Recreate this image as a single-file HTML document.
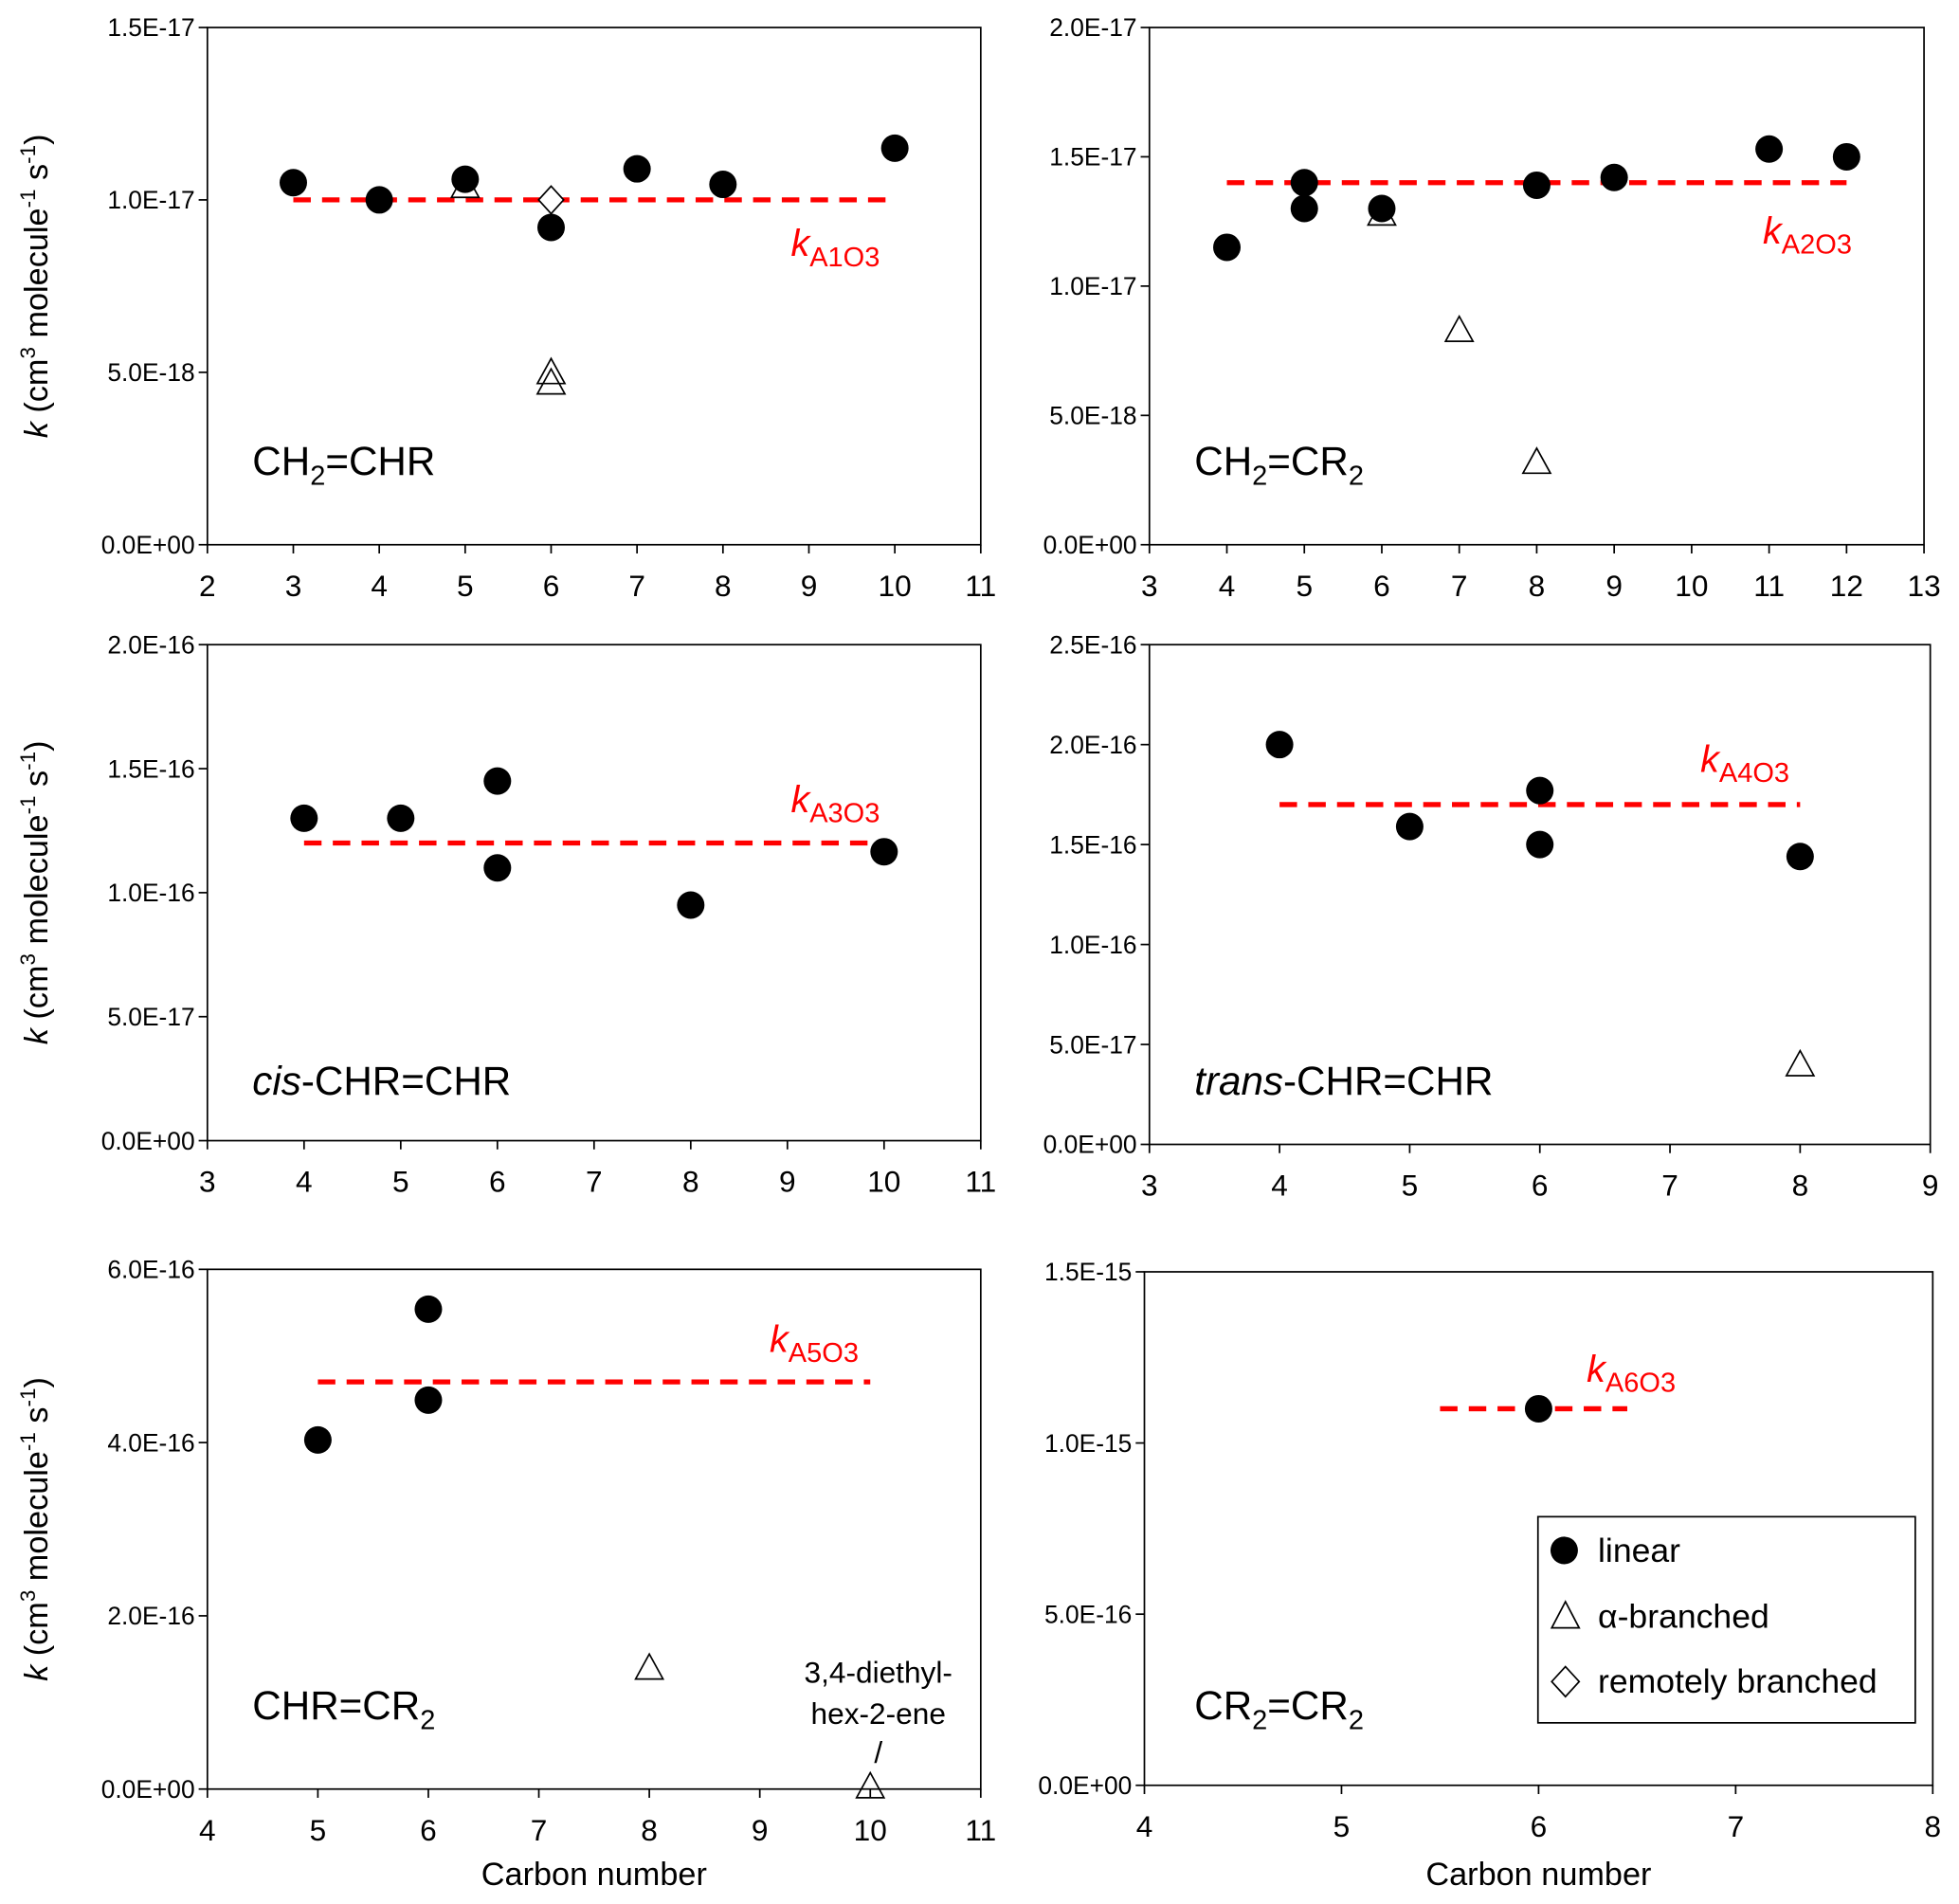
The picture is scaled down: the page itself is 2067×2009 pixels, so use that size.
<!DOCTYPE html>
<html><head><meta charset="utf-8"><style>
html,body{margin:0;padding:0;background:#fff}
svg{display:block;font-family:"Liberation Sans",sans-serif}
</style></head><body>
<svg id="chart" width="2067" height="2009" viewBox="0 0 1568 1524" xmlns="http://www.w3.org/2000/svg"></svg>
<script>
// ---- data ----
const p1Linear = [[3,1.05e-17],[4,1.0e-17],[5,1.06e-17],[6,0.92e-17],[7,1.09e-17],[8,1.045e-17],[10,1.15e-17]];
const p1Alpha = [[5,1.04e-17],[6,0.50e-17],[6,0.47e-17]];
const p1Remote = [[6,1.0e-17]];
const p1Avg = [3,10,1.0e-17];
const p2Linear = [[4,1.15e-17],[5,1.40e-17],[5,1.30e-17],[6,1.30e-17],[8,1.39e-17],[9,1.42e-17],[11,1.53e-17],[12,1.50e-17]];
const p2Alpha = [[6,1.28e-17],[7,0.83e-17],[8,0.32e-17]];
const p2Avg = [4,12,1.4e-17];
const p3Linear = [[4,1.30e-16],[5,1.30e-16],[6,1.45e-16],[6,1.10e-16],[8,0.95e-16],[10,1.165e-16]];
const p3Avg = [4,10,1.2e-16];
const p4Linear = [[4,2.0e-16],[5,1.59e-16],[6,1.77e-16],[6,1.50e-16],[8,1.44e-16]];
const p4Alpha = [[8,0.40e-16]];
const p4Avg = [4,8,1.7e-16];
const p5Linear = [[5,4.03e-16],[6,5.54e-16],[6,4.49e-16]];
const p5Alpha = [[8,1.40e-16],[10,0.03e-16]];
const p5Avg = [5,10,4.7e-16];
const p6Linear = [[6,1.1e-15]];
const p6Avg = [5.5,6.45,1.1e-15];
const yTicks1 = ["0.0E+00","5.0E-18","1.0E-17","1.5E-17"];
const yTicks2 = ["0.0E+00","5.0E-18","1.0E-17","1.5E-17","2.0E-17"];
const yTicks3 = ["0.0E+00","5.0E-17","1.0E-16","1.5E-16","2.0E-16"];
const yTicks4 = ["0.0E+00","5.0E-17","1.0E-16","1.5E-16","2.0E-16","2.5E-16"];
const yTicks5 = ["0.0E+00","2.0E-16","4.0E-16","6.0E-16"];
const yTicks6 = ["0.0E+00","5.0E-16","1.0E-15","1.5E-15"];

const NS="http://www.w3.org/2000/svg";
const svg=document.getElementById('chart');
function mk(tag,attrs,parent){const e=document.createElementNS(NS,tag);for(const k in attrs)e.setAttribute(k,attrs[k]);(parent||svg).appendChild(e);return e;}

const panels=[
 {n:1,x0:166,x1:785,y0:22,y1:436,xmin:2,xmax:11,ymax:1.5e-17,yTicks:yTicks1,lin:p1Linear,alp:p1Alpha,rem:p1Remote,avg:p1Avg,lbl:"A1O3",lx:633,ly:205,title:[["CH",""],["2","sub"],["=CHR",""]],tx:202,ty:380,ytitle:true},
 {n:2,x0:920,x1:1540,y0:22,y1:436,xmin:3,xmax:13,ymax:2.0e-17,yTicks:yTicks2,lin:p2Linear,alp:p2Alpha,rem:[],avg:p2Avg,lbl:"A2O3",lx:1411,ly:195,title:[["CH",""],["2","sub"],["=CR",""],["2","sub"]],tx:956,ty:380},
 {n:3,x0:166,x1:785,y0:516,y1:913,xmin:3,xmax:11,ymax:2.0e-16,yTicks:yTicks3,lin:p3Linear,alp:[],rem:[],avg:p3Avg,lbl:"A3O3",lx:633,ly:650,title:[["cis","i"],["-CHR=CHR",""]],tx:202,ty:876,ytitle:true},
 {n:4,x0:920,x1:1545,y0:516,y1:916,xmin:3,xmax:9,ymax:2.5e-16,yTicks:yTicks4,lin:p4Linear,alp:p4Alpha,rem:[],avg:p4Avg,lbl:"A4O3",lx:1361,ly:618,title:[["trans","i"],["-CHR=CHR",""]],tx:956,ty:876},
 {n:5,x0:166,x1:785,y0:1016,y1:1432,xmin:4,xmax:11,ymax:6.0e-16,yTicks:yTicks5,lin:p5Linear,alp:p5Alpha,rem:[],avg:p5Avg,lbl:"A5O3",lx:616,ly:1082,title:[["CHR=CR",""],["2","sub"]],tx:202,ty:1376,ytitle:true,xtitle:true},
 {n:6,x0:916,x1:1547,y0:1018,y1:1429,xmin:4,xmax:8,ymax:1.5e-15,yTicks:yTicks6,lin:p6Linear,alp:[],rem:[],avg:p6Avg,lbl:"A6O3",lx:1270,ly:1106,title:[["CR",""],["2","sub"],["=CR",""],["2","sub"]],tx:956,ty:1376,xtitle:true}
];

panels.forEach(p=>{
 const g=mk('g',{});
 
 
 const sx=v=>p.x0+(v-p.xmin)/(p.xmax-p.xmin)*(p.x1-p.x0);
 const sy=v=>p.y1-v/p.ymax*(p.y1-p.y0);
 const frame=mk('rect',{x:p.x0,y:p.y0,width:p.x1-p.x0,height:p.y1-p.y0,fill:'none',stroke:'#000','stroke-width':1.3},g);
 
 
 p.yTicks.forEach((t,i)=>{
  const y=p.y1-i/(p.yTicks.length-1)*(p.y1-p.y0);
  mk('line',{x1:p.x0-7,x2:p.x0,y1:y,y2:y,stroke:'#000','stroke-width':1.3},g);
  const tx=mk('text',{x:p.x0-10,y:y+7,'text-anchor':'end','font-size':20},g);
  tx.textContent=t;
  
  
 });
 for(let v=p.xmin;v<=p.xmax;v++){
  const x=sx(v);
  mk('line',{x1:x,x2:x,y1:p.y1,y2:p.y1+7,stroke:'#000','stroke-width':1.3},g);
  const tx=mk('text',{x:x,y:p.y1+41,'text-anchor':'middle','font-size':24},g);
  tx.textContent=v;
  
  
 }
 const l=mk('line',{x1:sx(p.avg[0]),x2:sx(p.avg[1]),y1:sy(p.avg[2]),y2:sy(p.avg[2]),stroke:'#f00','stroke-width':4,'stroke-dasharray':'14 9'},g);
 
 
 p.rem.forEach(d=>{const x=sx(d[0]),y=sy(d[1]);
  const e=mk('polygon',{points:`${x},${y-11} ${x+10},${y} ${x},${y+11} ${x-10},${y}`,fill:'#fff',stroke:'#000','stroke-width':1.3},g);
  
  });
 p.lin.forEach(d=>{
  const e=mk('circle',{cx:sx(d[0]),cy:sy(d[1]),r:11,fill:'#000'},g);
  
  });
 p.alp.forEach(d=>{const x=sx(d[0]),y=sy(d[1]);
  const e=mk('polygon',{points:`${x},${y-11} ${x+11},${y+9} ${x-11},${y+9}`,fill:'none',stroke:'#000','stroke-width':1.3},g);
  
  });
 const kt=mk('text',{x:p.lx,y:p.ly,fill:'#f00','font-size':30},g);
 kt.innerHTML='<tspan font-style="italic">k</tspan><tspan font-size="22" dy="8">'+p.lbl+'</tspan>';
 
 
 const tt=mk('text',{x:p.tx,y:p.ty,'font-size':32},g);
 let h='';let down=false;
 p.title.forEach(s=>{
  if(s[1]==='sub'){h+='<tspan font-size="22" dy="8">'+s[0]+'</tspan>';down=true;}
  else{const dy=down?' dy="-8"':'';down=false;
   h+='<tspan'+dy+(s[1]==='i'?' font-style="italic"':'')+'>'+s[0]+'</tspan>';}
 });
 tt.innerHTML=h;
 
 
 if(p.ytitle){
  const cy=(p.y0+p.y1)/2;
  const yt=mk('text',{x:0,y:0,'font-size':26,'text-anchor':'middle',transform:`translate(38,${cy}) rotate(-90)`},g);
  yt.innerHTML='<tspan font-style="italic">k</tspan> (cm<tspan font-size="17" dy="-10">3</tspan><tspan dy="10"> molecule</tspan><tspan font-size="17" dy="-10">-1</tspan><tspan dy="10"> s</tspan><tspan font-size="17" dy="-10">-1</tspan><tspan dy="10">)</tspan>';
  
  
 }
 if(p.xtitle){
  const xt=mk('text',{x:(p.x0+p.x1)/2,y:1509,'font-size':26,'text-anchor':'middle'},g);
  xt.textContent='Carbon number';
  
  
 }
});
const an=mk('g',{});


[['3,4-diethyl-',1347],['hex-2-ene',1380],['/',1411]].forEach(s=>{const t=mk('text',{x:703,y:s[1],'font-size':24,'text-anchor':'middle'},an);t.textContent=s[0];});
const lg=mk('g',{});


mk('rect',{x:1231,y:1214,width:302,height:165,fill:'#fff',stroke:'#000','stroke-width':1.3},lg);
const le1=mk('circle',{cx:1252,cy:1241,r:11,fill:'#000'},lg);


const le2=mk('polygon',{points:'1253,1282 1264,1303 1242,1303',fill:'none',stroke:'#000','stroke-width':1.3},lg);


const le3=mk('polygon',{points:'1253,1334 1264,1346 1253,1358 1242,1346',fill:'#fff',stroke:'#000','stroke-width':1.3},lg);


[['linear',1250],['α-branched',1303],['remotely branched',1355]].forEach(s=>{const t=mk('text',{x:1279,y:s[1],'font-size':27},lg);t.textContent=s[0];});
</script>
</body></html>
